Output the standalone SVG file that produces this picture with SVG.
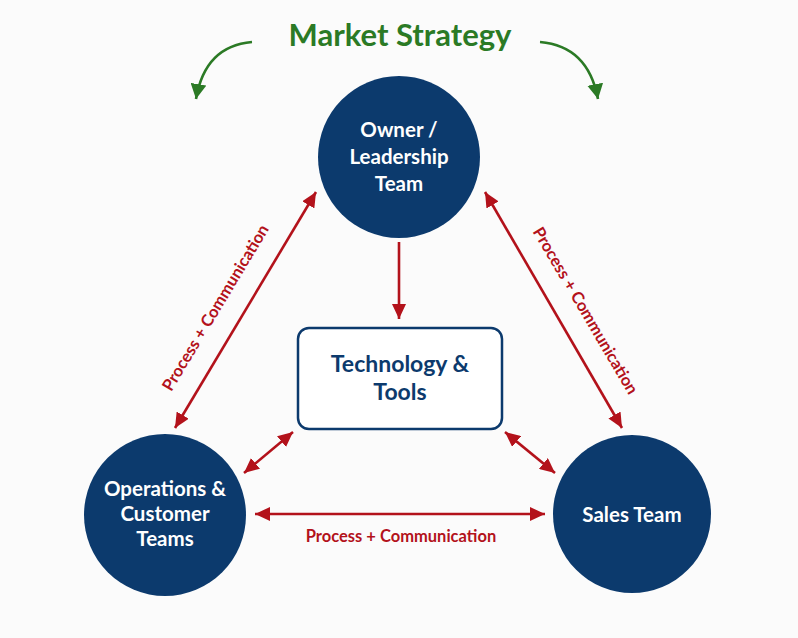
<svg xmlns="http://www.w3.org/2000/svg" width="798" height="638" viewBox="0 0 798 638">
<defs>
<style>
.node{fill:#0c3a6d}
.nt{font-family:Lato,"Liberation Sans",sans-serif;font-weight:bold;font-size:20.5px;fill:#ffffff;text-anchor:middle}
.box{fill:#ffffff;stroke:#0c3a6d;stroke-width:2.5}
.bt{font-family:Lato,"Liberation Sans",sans-serif;font-weight:bold;font-size:23px;fill:#0c3a6d;text-anchor:middle}
.red{stroke:#b3121b;stroke-width:2.6;fill:none}
.lbl{font-family:Lato,"Liberation Sans",sans-serif;font-weight:bold;font-size:16.5px;fill:#b3121b;text-anchor:middle}
.green{stroke:#2b7a25;stroke-width:2.6;fill:none}
.title{font-family:Lato,"Liberation Sans",sans-serif;font-weight:bold;font-size:31px;fill:#2b7a25;text-anchor:middle}
</style>
<marker id="ar" markerUnits="userSpaceOnUse" markerWidth="16" markerHeight="14" refX="15" refY="7" orient="auto-start-reverse">
<path d="M0,0 L15,7 L0,14 z" fill="#b3121b"/>
</marker>
<marker id="ag" markerUnits="userSpaceOnUse" markerWidth="16" markerHeight="16" refX="15" refY="8" orient="auto">
<path d="M0,0 L15,8 L0,16 z" fill="#2b7a25"/>
</marker>
</defs>
<rect x="0" y="0" width="798" height="638" fill="#fbfbfb"/>

<g id="title">
<text class="title" x="400" y="46">Market Strategy</text>
</g>

<g id="connectors">
<path class="green" d="M252,42 Q205,46 196,99" marker-end="url(#ag)"/>
<path class="green" d="M540,42 Q588,46 598,99" marker-end="url(#ag)"/>
<line class="red" x1="399" y1="242" x2="399" y2="319" marker-end="url(#ar)"/>
<line class="red" x1="316" y1="192" x2="175" y2="428" marker-start="url(#ar)" marker-end="url(#ar)"/>
<line class="red" x1="485" y1="192" x2="622" y2="428" marker-start="url(#ar)" marker-end="url(#ar)"/>
<line class="red" x1="255" y1="514" x2="545" y2="514" marker-start="url(#ar)" marker-end="url(#ar)"/>
<line class="red" x1="293" y1="432" x2="244" y2="473" marker-start="url(#ar)" marker-end="url(#ar)"/>
<line class="red" x1="505" y1="432" x2="555" y2="473" marker-start="url(#ar)" marker-end="url(#ar)"/>
<text class="lbl" transform="translate(216,308) rotate(-59)" x="0" y="5">Process + Communication</text>
<text class="lbl" transform="translate(585,311) rotate(59.5)" x="0" y="5">Process + Communication</text>
<text class="lbl" x="401" y="542">Process + Communication</text>
</g>

<g id="owner">
<circle class="node" cx="399" cy="157" r="81"/>
<text class="nt" x="399" y="137">Owner /</text>
<text class="nt" x="399" y="164">Leadership</text>
<text class="nt" x="399" y="191">Team</text>
</g>

<g id="technology">
<rect class="box" x="298" y="328" width="204" height="101" rx="11"/>
<text class="bt" x="400" y="372">Technology &amp;</text>
<text class="bt" x="400" y="400">Tools</text>
</g>

<g id="operations">
<circle class="node" cx="165" cy="515" r="81"/>
<text class="nt" x="165" y="496">Operations &amp;</text>
<text class="nt" x="165" y="521">Customer</text>
<text class="nt" x="165" y="546">Teams</text>
</g>

<g id="sales">
<circle class="node" cx="632" cy="514" r="79"/>
<text class="nt" x="632" y="522">Sales Team</text>
</g>
</svg>
